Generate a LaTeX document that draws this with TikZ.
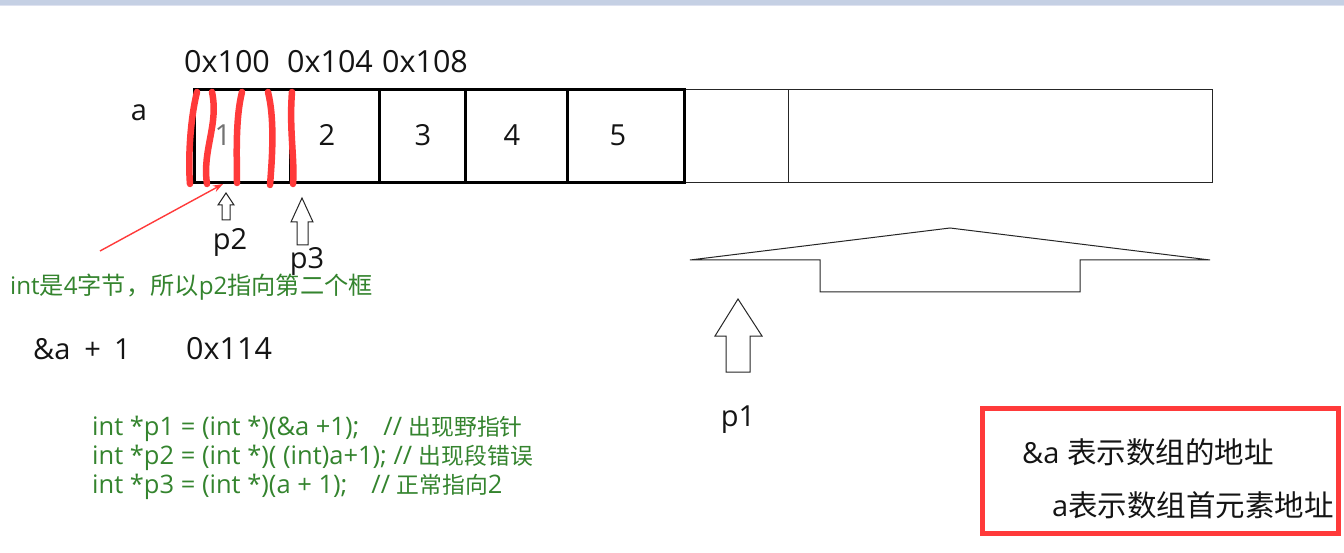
\documentclass[tikz,border=0pt]{standalone}
\usepackage{fontspec}
\setmainfont{Open Sans}
\newfontfamily\cjk{Noto Sans CJK SC}
\usetikzlibrary{arrows.meta}
\definecolor{topband}{RGB}{197,208,228}
\definecolor{topline}{RGB}{222,226,240}
\definecolor{mark}{RGB}{255,58,58}
\definecolor{note}{RGB}{52,132,46}
\definecolor{txt}{RGB}{20,20,20}
\newcommand{\cjkc}[1]{{\cjk\fontsize{22.8}{27}\selectfont #1}}
\tikzset{
  big/.style={inner sep=0pt,text=txt,font=\fontsize{29}{33}\selectfont},
  hex/.style={big,font=\fontsize{30.5}{34}\selectfont},
  small/.style={inner sep=0pt,text=note,font=\fontsize{25.5}{29}\selectfont,anchor=west},
  bold/.style={line width=3pt,draw=black},
  thin/.style={line width=1pt,draw=black!85},
  redstroke/.style={line width=6.5pt,draw=mark,line cap=round},
  hollow/.style={line width=1pt,draw=black!85,fill=white,line join=miter},
  redarrow/.style={line width=1.4pt,draw=mark,-{Stealth[length=10pt,width=7pt]}}
}
\begin{document}
\begin{tikzpicture}[x=1pt,y=-1pt]
\useasboundingbox (0,0) rectangle (1344,553);
\fill[white] (0,0) rectangle (1344,553);
\fill[topband] (0,0) rectangle (1344,5);
\fill[topline] (0,5) rectangle (1344,6.5);

% array
\draw[thin] (684,90) rectangle (1212,183);
\draw[thin] (788,90) -- (788,183);
\draw[bold] (194,90) rectangle (684,183);
\foreach \x in {290,379,465,567} \draw[bold] (\x,90) -- (\x,183);

% labels
\node[hex] (h100) at (227,62) {0x100};
\node[hex] (h104) at (330,62) {0x104};
\node[hex] (h108) at (425,62) {0x108};
\node[big] (la) at (139,113) {a};
\node[big,text=black!55] (c1) at (223,135) {1};
\node[big] (c2) at (327,135) {2};
\node[big] (c3) at (423,135) {3};
\node[big] (c4) at (512,135) {4};
\node[big] (c5) at (618,135) {5};

% red strokes
\draw[redstroke] (197,92) .. controls (190,120) and (188,160) .. (190,184);
\draw[redstroke] (212,92) .. controls (219,125) and (202,150) .. (207,184);
\draw[redstroke] (242,92) .. controls (235,120) and (237,160) .. (237,183);
\draw[redstroke] (268,92) .. controls (275,120) and (272,160) .. (270,185);
\draw[redstroke] (292,92) .. controls (289,130) and (295,160) .. (293,184);

% pointer arrows
\draw[hollow] (226,193) -- (234,205) -- (230,205) -- (230,220) -- (222,220) -- (222,205) -- (218,205) -- cycle;
\node[big] (p2) at (230,242) {p2};
\draw[hollow] (302,198) -- (313,222) -- (308,222) -- (308,245) -- (297,245) -- (297,222) -- (291,222) -- cycle;
\node[big] (p3) at (307,261) {p3};
\draw[hollow] (738,299) -- (762,336) -- (750,336) -- (750,372) -- (726,372) -- (726,336) -- (715,336) -- cycle;
\node[big] (p1) at (738,420) {p1};

% bracket
\draw[thin,line join=miter] (690,260) -- (950,228) -- (1210,260) -- (1080,260) -- (1080,292) -- (820,292) -- (820,260) -- cycle;

% red annotation arrow
\coordinate (rs) at (100,251);
\coordinate (re) at (223,184);
\draw[redarrow] (rs) -- (re);

% notes
\node[small,font=\fontsize{24.2}{28}\selectfont] (n1) at (10,287) {int{\cjk 是}4{\cjk 字节，所以}p2{\cjk 指向第二个框}};
\node[big,anchor=west] (ea) at (33,349) {\&a\hspace{14pt}+\hspace{13pt}1};
\node[hex,anchor=west] (h114) at (186,349) {0x114};
\node[small] (l1) at (92,429) {int *p1 = (int *)(\&a +1);\hspace{24pt}// \cjkc{出现野指针}};
\node[small] (l2) at (92,458) {int *p2 = (int *)( (int)a+1); // \cjkc{出现段错误}};
\node[small] (l3) at (92,487) {int *p3 = (int *)(a + 1);\hspace{24pt}// \cjkc{正常指向}2};

% red box
\draw[line width=5pt,draw=mark] (982,408) rectangle (1338,533);
\node[big,anchor=west] (b1) at (1022,452) {\&a {\cjk\fontsize{29.5}{33}\selectfont 表示数组的地址}};
\node[big,anchor=west] (b2) at (1052,505) {a{\cjk\fontsize{29.5}{33}\selectfont 表示数组首元素地址}};
\end{tikzpicture}
\end{document}
